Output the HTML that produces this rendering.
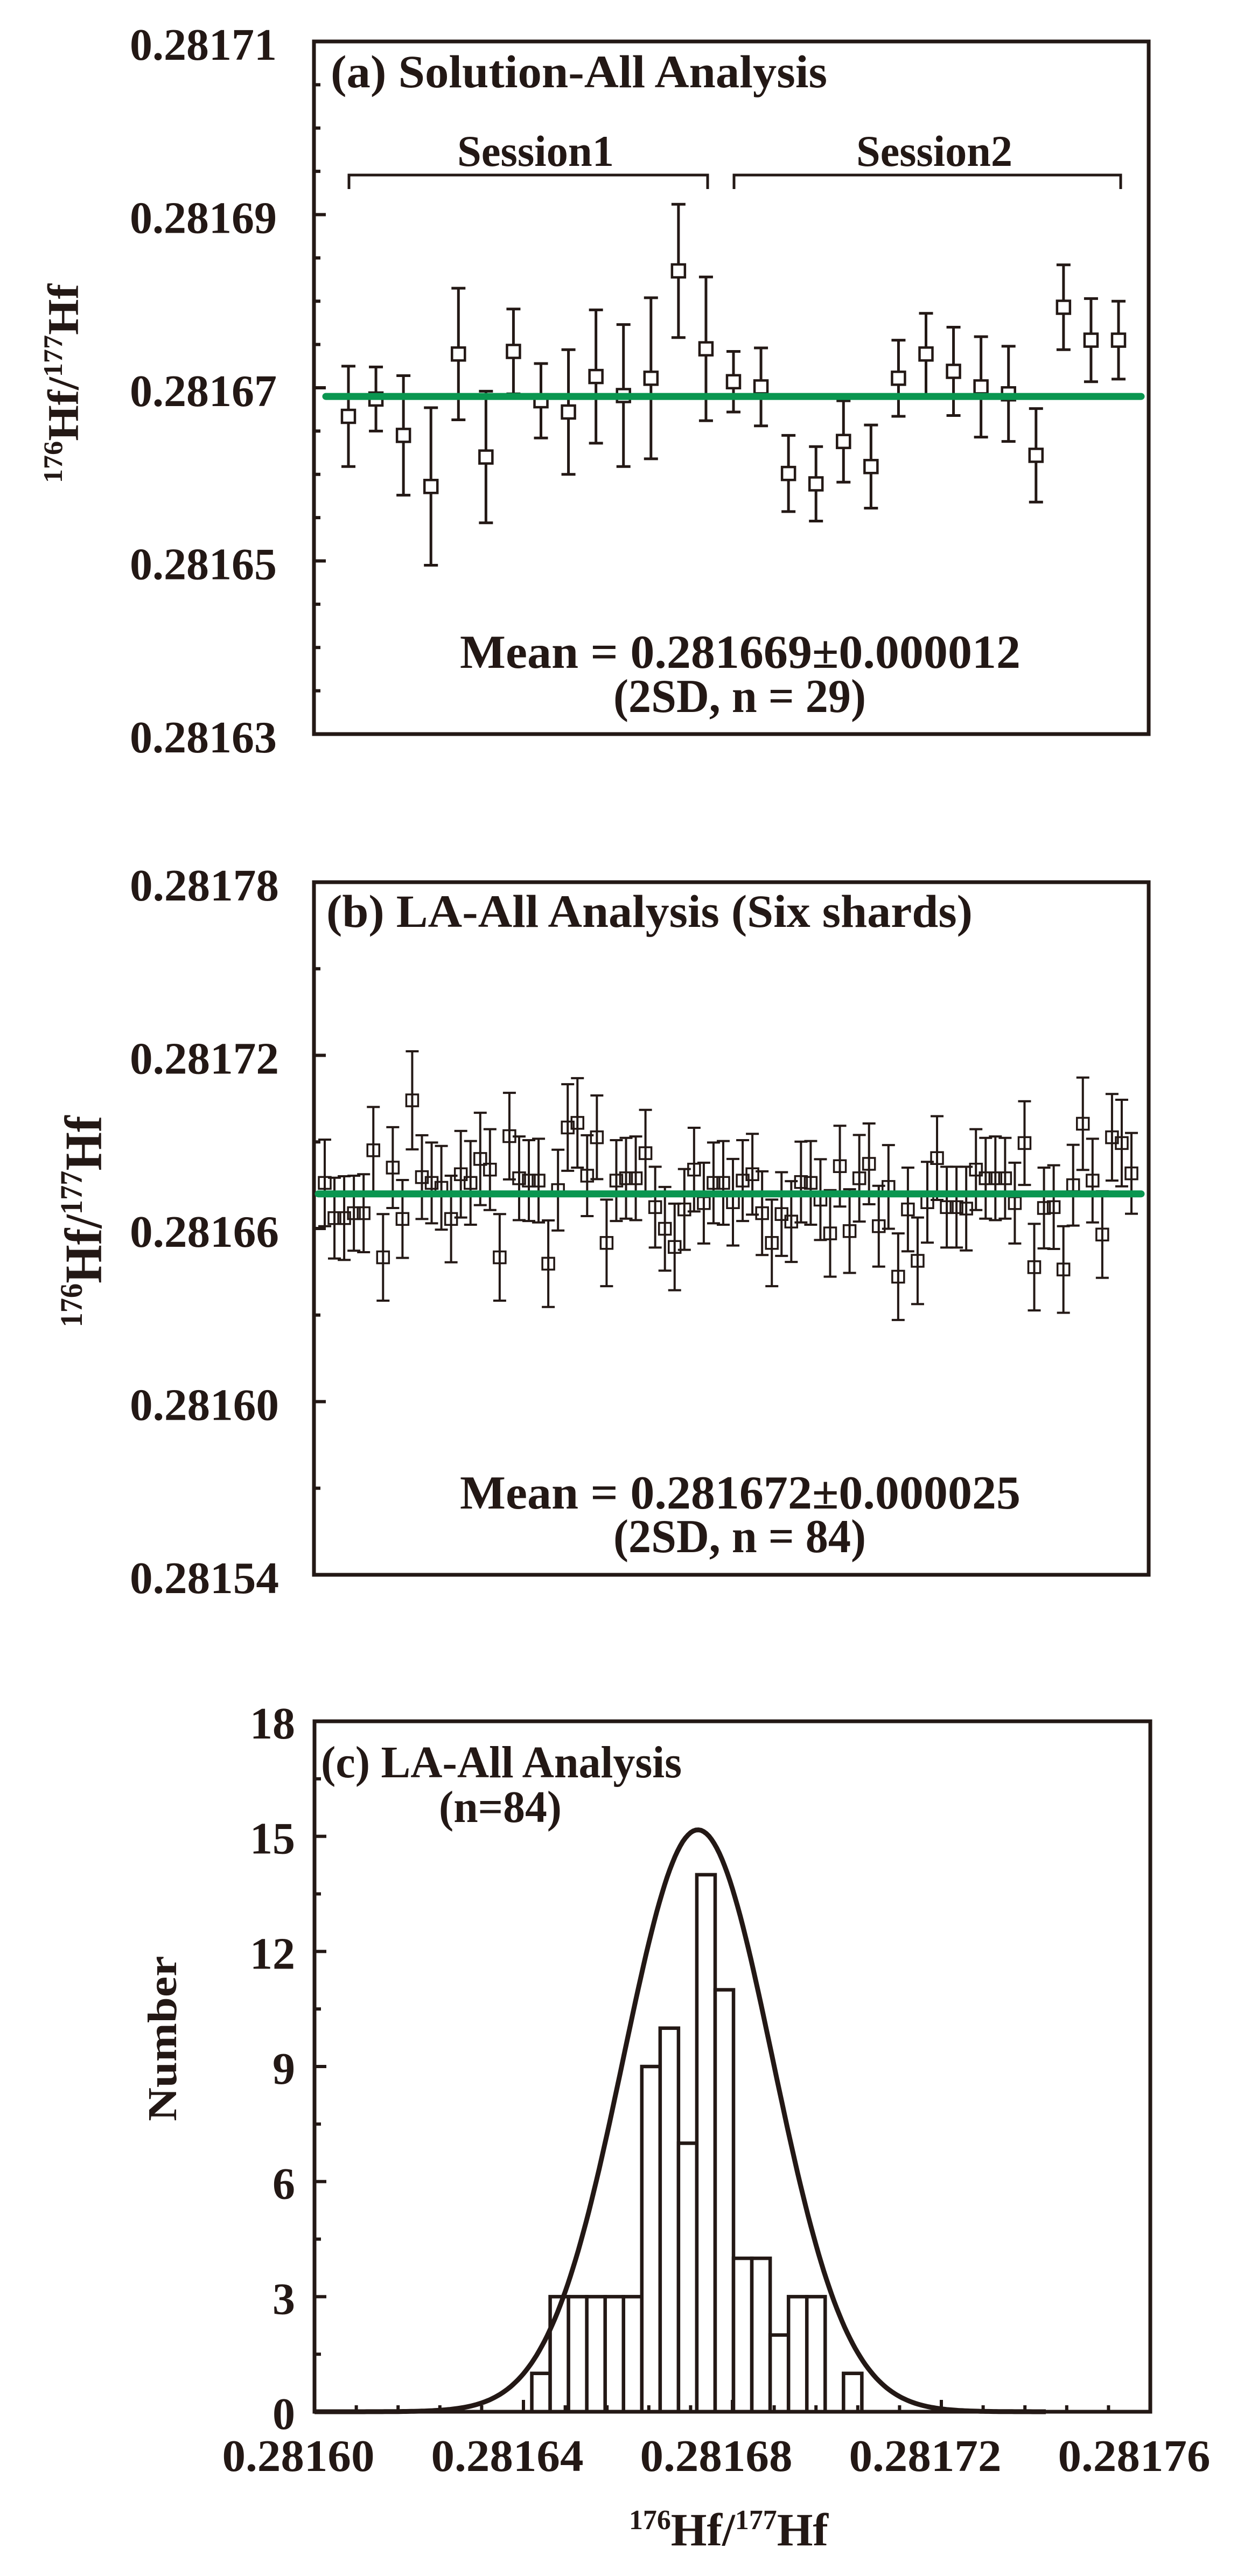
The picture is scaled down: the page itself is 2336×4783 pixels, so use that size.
<!DOCTYPE html>
<html><head><meta charset="utf-8"><style>
html,body{margin:0;padding:0;background:#fff;}
svg{display:block;}
text{font-family:"Liberation Serif",serif;font-weight:bold;fill:#231815;}
</style></head><body>
<svg id="fig" xmlns="http://www.w3.org/2000/svg" width="2336" height="4783" viewBox="0 0 2336 4783">
<rect x="0" y="0" width="2336" height="4783" fill="#fff"/>
<g id="pa"></g>
<g id="pb"></g>
<g id="pc"></g>

<text x="614" y="162" font-size="86" textLength="922" lengthAdjust="spacingAndGlyphs">(a) Solution-All Analysis</text>
<text x="849" y="308" font-size="82" textLength="291" lengthAdjust="spacingAndGlyphs">Session1</text>
<text x="1590" y="308" font-size="82" textLength="290" lengthAdjust="spacingAndGlyphs">Session2</text>
<path d="M648 351 V325 H1314 V351" fill="none" stroke="#231815" stroke-width="5"/>
<path d="M1363 351 V325 H2081 V351" fill="none" stroke="#231815" stroke-width="5"/>
<text x="854" y="1240" font-size="88" textLength="1041" lengthAdjust="spacingAndGlyphs">Mean = 0.281669±0.000012</text>
<text x="1139" y="1322" font-size="88" textLength="469" lengthAdjust="spacingAndGlyphs">(2SD, n = 29)</text>
<text transform="translate(145,712) rotate(-90)" text-anchor="middle" font-size="82" textLength="370" lengthAdjust="spacingAndGlyphs"><tspan font-size="50" dy="-30">176</tspan><tspan dy="30">Hf/</tspan><tspan font-size="50" dy="-30">177</tspan><tspan dy="30">Hf</tspan></text>

<text x="606" y="1721" font-size="86" textLength="1200" lengthAdjust="spacingAndGlyphs">(b) LA-All Analysis (Six shards)</text>
<text x="854" y="2801" font-size="88" textLength="1041" lengthAdjust="spacingAndGlyphs">Mean = 0.281672±0.000025</text>
<text x="1139" y="2882" font-size="88" textLength="469" lengthAdjust="spacingAndGlyphs">(2SD, n = 84)</text>
<text transform="translate(188,2268) rotate(-90)" text-anchor="middle" font-size="98" textLength="393" lengthAdjust="spacingAndGlyphs"><tspan font-size="58" dy="-36">176</tspan><tspan dy="36">Hf/</tspan><tspan font-size="58" dy="-36">177</tspan><tspan dy="36">Hf</tspan></text>

<text x="596" y="3300" font-size="84" textLength="670" lengthAdjust="spacingAndGlyphs">(c) LA-All Analysis</text>
<text x="815" y="3383" font-size="84" textLength="228" lengthAdjust="spacingAndGlyphs">(n=84)</text>
<text transform="translate(327,3785) rotate(-90)" text-anchor="middle" font-size="76" textLength="307" lengthAdjust="spacingAndGlyphs">Number</text>
<text x="1168" y="4726" font-size="86" textLength="370" lengthAdjust="spacingAndGlyphs"><tspan font-size="52" dy="-30">176</tspan><tspan dy="30">Hf/</tspan><tspan font-size="52" dy="-30">177</tspan><tspan dy="30">Hf</tspan></text>
</svg>
<script>
// ---------- Panel (a) data ----------
const aValues = [0.2816667,0.2816687,0.2816645,0.2816586,0.2816739,0.2816620,0.2816742,0.2816685,0.2816672,0.2816713,0.2816691,0.2816711,0.2816835,0.2816745,0.2816707,0.2816701,0.2816601,0.2816589,0.2816638,0.2816609,0.2816711,0.2816739,0.2816719,0.2816701,0.2816693,0.2816622,0.2816793,0.2816755,0.2816755];
const aErrors = [0.0000058,0.0000037,0.0000069,0.0000091,0.0000076,0.0000076,0.0000049,0.0000043,0.0000072,0.0000077,0.0000082,0.0000093,0.0000077,0.0000083,0.0000035,0.0000045,0.0000044,0.0000043,0.0000047,0.0000048,0.0000044,0.0000047,0.0000051,0.0000058,0.0000055,0.0000054,0.0000049,0.0000048,0.0000045];
const aMean = 0.281669;
const aTickLabels = ["0.28163","0.28165","0.28167","0.28169","0.28171"];
const aTickValues = [0.28163,0.28165,0.28167,0.28169,0.28171];

// ---------- Panel (b) data ----------
const bValues = [0.2816758,0.2816636,0.2816636,0.2816653,0.2816653,0.2816871,0.2816500,0.2816811,0.2816633,0.2817044,0.2816778,0.2816758,0.2816741,0.2816633,0.2816788,0.2816758,0.2816841,0.2816804,0.2816500,0.2816920,0.2816774,0.2816766,0.2816766,0.2816478,0.2816733,0.2816950,0.2816966,0.2816783,0.2816916,0.2816550,0.2816766,0.2816774,0.2816774,0.2816861,0.2816674,0.2816599,0.2816536,0.2816666,0.2816804,0.2816688,0.2816758,0.2816758,0.2816691,0.2816766,0.2816788,0.2816653,0.2816550,0.2816650,0.2816624,0.2816761,0.2816758,0.2816700,0.2816583,0.2816816,0.2816591,0.2816774,0.2816824,0.2816608,0.2816744,0.2816433,0.2816666,0.2816488,0.2816691,0.2816844,0.2816674,0.2816674,0.2816669,0.2816804,0.2816774,0.2816774,0.2816774,0.2816688,0.2816896,0.2816466,0.2816671,0.2816674,0.2816458,0.2816750,0.2816963,0.2816766,0.2816579,0.2816916,0.2816896,0.2816791];
const bErrors = [0.0000150,0.0000140,0.0000145,0.0000130,0.0000135,0.0000150,0.0000150,0.0000140,0.0000135,0.0000170,0.0000145,0.0000140,0.0000145,0.0000150,0.0000150,0.0000145,0.0000160,0.0000140,0.0000150,0.0000150,0.0000145,0.0000140,0.0000145,0.0000150,0.0000140,0.0000150,0.0000155,0.0000140,0.0000145,0.0000150,0.0000140,0.0000140,0.0000145,0.0000150,0.0000140,0.0000145,0.0000150,0.0000140,0.0000145,0.0000140,0.0000140,0.0000145,0.0000150,0.0000140,0.0000140,0.0000145,0.0000150,0.0000145,0.0000140,0.0000140,0.0000145,0.0000140,0.0000150,0.0000140,0.0000145,0.0000150,0.0000140,0.0000140,0.0000145,0.0000150,0.0000145,0.0000150,0.0000140,0.0000145,0.0000140,0.0000140,0.0000145,0.0000140,0.0000140,0.0000145,0.0000140,0.0000140,0.0000145,0.0000150,0.0000140,0.0000145,0.0000150,0.0000140,0.0000160,0.0000145,0.0000150,0.0000150,0.0000150,0.0000140];
const bMean = 0.281672;
const bTickLabels = ["0.28154","0.28160","0.28166","0.28172","0.28178"];
const bTickValues = [0.28154,0.28160,0.28166,0.28172,0.28178];

// ---------- Panel (c) data ----------
const cBinStart = 0.2816416;
const cBinWidth = 0.00000351;
const cCounts = [1,3,3,3,3,3,9,10,7,14,11,4,4,2,3,3,0,1];
const cGaussMean = 0.2816734;
const cGaussSd = 0.0000143;
const cGaussPeak = 15.17;
const cYTickLabels = ["0","3","6","9","12","15","18"];
const cYTickValues = [0,3,6,9,12,15,18];
const cXTickLabels = ["0.28160","0.28164","0.28168","0.28172","0.28176"];
const cXTickValues = [0.28160,0.28164,0.28168,0.28172,0.28176];

const NS = "http://www.w3.org/2000/svg";
const INK = "#231815";
const GREEN = "#0a9650";
function mk(parent, tag, attrs) {
  const e = document.createElementNS(NS, tag);
  for (const k in attrs) e.setAttribute(k, attrs[k]);
  parent.appendChild(e);
  return e;
}
function frame(g, x0, y0, x1, y1) {
  const r = mk(g, "rect", {x:x0, y:y0, width:x1-x0, height:y1-y0, fill:"none", stroke:INK, "stroke-width":7});
  
  
}

// ===== Panel (a) =====
(function(){
  const g = document.getElementById("pa");
  const L = 583, R = 2133, T = 77, B = 1363;
  const yA = v => B - (v - 0.28163) / 0.00008 * (B - T);
  const xA = i => 647 + i * (2077 - 647) / 28;
  frame(g, L, T, R, B);
  for (let v = 0.28163; v <= 0.281711; v += 0.000005) {
    const major = Math.abs(((v - 0.28163) / 0.00002) - Math.round((v - 0.28163) / 0.00002)) < 1e-6;
    const t = mk(g, "line", {x1:L, x2:L + (major ? 22 : 12), y1:yA(v), y2:yA(v), stroke:INK, "stroke-width":6});
    
    
  }
  aTickValues.forEach((v, k) => {
    const t = mk(g, "text", {x:514, y:yA(v) + 34, "font-size":84, "text-anchor":"end", textLength:273, lengthAdjust:"spacingAndGlyphs"});
    t.textContent = aTickLabels[k];
    
    
  });
  aValues.forEach((v, i) => {
    const x = xA(i), e = aErrors[i];
    const eb = mk(g, "path", {d:`M${x} ${yA(v+e)} V${yA(v-e)} M${x-13} ${yA(v+e)} H${x+13} M${x-13} ${yA(v-e)} H${x+13}`, stroke:INK, "stroke-width":5, fill:"none"});
    
    
    const p = mk(g, "rect", {x:x-12, y:yA(v)-12, width:24, height:24, fill:"#fff", stroke:INK, "stroke-width":4.5});
    
    
  });
  const m = mk(g, "line", {x1:605, x2:2119, y1:yA(aMean), y2:yA(aMean), stroke:GREEN, "stroke-width":13, "stroke-linecap":"round"});
  
  
})();

// ===== Panel (b) =====
(function(){
  const g = document.getElementById("pb");
  const L = 583, R = 2133, T = 1638, B = 2924;
  const yB = v => B - (v - 0.28154) / 0.00024 * (B - T);
  const xB = i => 603 + i * (2101 - 603) / 83;
  frame(g, L, T, R, B);
  for (let k = 0; k <= 8; k++) {
    const v = 0.28154 + k * 0.00003;
    const t = mk(g, "line", {x1:L, x2:L + (k % 2 === 0 ? 22 : 12), y1:yB(v), y2:yB(v), stroke:INK, "stroke-width":6});
    
    
  }
  bTickValues.forEach((v, k) => {
    const t = mk(g, "text", {x:518, y:yB(v) + 34, "font-size":84, "text-anchor":"end", textLength:277, lengthAdjust:"spacingAndGlyphs"});
    t.textContent = bTickLabels[k];
    
    
  });
  bValues.forEach((v, i) => {
    const x = xB(i), e = bErrors[i];
    const eb = mk(g, "path", {d:`M${x} ${yB(v+e)} V${yB(v-e)} M${x-12} ${yB(v+e)} H${x+12} M${x-12} ${yB(v-e)} H${x+12}`, stroke:INK, "stroke-width":4, fill:"none"});
    
    
    const p = mk(g, "rect", {x:x-11, y:yB(v)-11, width:22, height:22, fill:"none", stroke:INK, "stroke-width":3.5});
    
    
  });
  const m = mk(g, "line", {x1:591, x2:2119, y1:yB(bMean), y2:yB(bMean), stroke:GREEN, "stroke-width":13, "stroke-linecap":"round"});
  
  
})();

// ===== Panel (c) =====
(function(){
  const g = document.getElementById("pc");
  const L = 584, R = 2136, T = 3196, B = 4478;
  const xC = v => L + (v - 0.28160) / 0.00016 * (R - L);
  const yC = n => B - n / 18 * (B - T);
  cCounts.forEach((n, i) => {
    const x0 = xC(cBinStart + i * cBinWidth), x1 = xC(cBinStart + (i + 1) * cBinWidth);
    const b = mk(g, "rect", {x:x0, y:yC(n), width:x1 - x0, height:B - yC(n), fill:"#fff", stroke:INK, "stroke-width":6.5});
    
    
  });
  let d = "";
  for (let k = 0; k <= 280; k++) {
    const v = 0.28160 + k * 0.0000005;
    const n = cGaussPeak * Math.exp(-0.5 * Math.pow((v - cGaussMean) / cGaussSd, 2));
    d += (k ? "L" : "M") + xC(v).toFixed(1) + " " + yC(n).toFixed(1);
  }
  const c = mk(g, "path", {d:d, fill:"none", stroke:INK, "stroke-width":9});
  
  
  frame(g, L, T, R, B);
  for (let k = 0; k <= 12; k++) {
    const n = k * 1.5;
    const t = mk(g, "line", {x1:L, x2:L + (k % 2 === 0 ? 22 : 12), y1:yC(n), y2:yC(n), stroke:INK, "stroke-width":6});
    
    
  }
  for (let k = 0; k <= 20; k++) {
    const v = 0.28160 + k * 0.000008;
    const t = mk(g, "line", {x1:xC(v), x2:xC(v), y1:B, y2:B - (k % 5 === 0 ? 22 : 12), stroke:INK, "stroke-width":6});
    
    
  }
  cYTickValues.forEach((n, k) => {
    const t = mk(g, "text", {x:548, y:yC(n) + 32, "font-size":84, "text-anchor":"end"});
    t.textContent = cYTickLabels[k];
    
    
  });
  cXTickValues.forEach((v, k) => {
    const t = mk(g, "text", {x:xC(v) - 30, y:4588, "font-size":84, "text-anchor":"middle", textLength:283, lengthAdjust:"spacingAndGlyphs"});
    t.textContent = cXTickLabels[k];
    
    
  });
})();
</script>
</body></html>
